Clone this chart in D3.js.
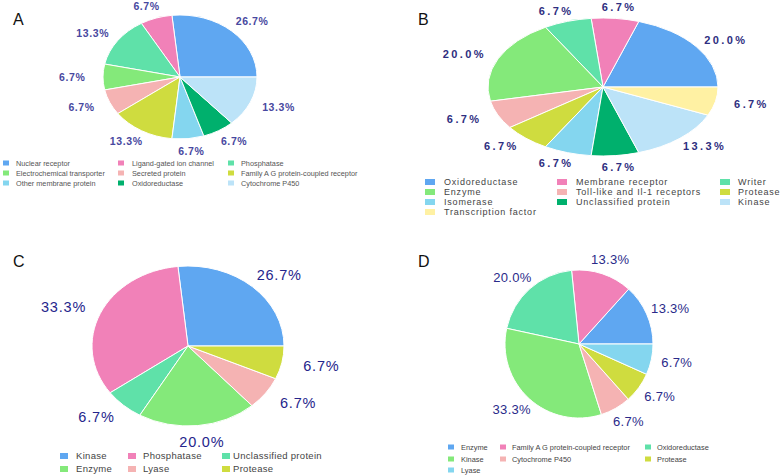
<!DOCTYPE html>
<html>
<head>
<meta charset="utf-8">
<script src="https://cdn.jsdelivr.net/npm/d3@7"></script>
<style>
  body { margin: 0; background: #fff; }
  svg { display: block; font-family: "Liberation Sans", Arial, sans-serif; }
</style>
</head>
<body>
<div id="chart"></div>
<script>
// shared slice palette, used in order by every panel
const palette = ['#5fa7f1', '#f181b8', '#5fe1a9', '#84e97a', '#f5b3b3',
                 '#cfdc3f', '#84d6ef', '#00b06d', '#bce3f8', '#fff1a3'];

// Panel A
const catsA = ['Nuclear receptor', 'Ligand-gated ion channel', 'Phosphatase',
               'Electrochemical transporter', 'Secreted protein', 'Family A G protein-coupled receptor',
               'Other membrane protein', 'Oxidoreductase', 'Cytochrome P450'];
const valsA = [26.7, 6.7, 13.3, 6.7, 6.7, 13.3, 6.7, 6.7, 13.3];

// Panel B
const catsB = ['Oxidoreductase', 'Membrane receptor', 'Writer',
               'Enzyme', 'Toll-like and Il-1 receptors', 'Protease',
               'Isomerase', 'Unclassified protein', 'Kinase',
               'Transcription factor'];
const valsB = [20.0, 6.7, 6.7, 20.0, 6.7, 6.7, 6.7, 6.7, 13.3, 6.7];

// Panel C
const catsC = ['Kinase', 'Phosphatase', 'Unclassified protein', 'Enzyme', 'Lyase', 'Protease'];
const valsC = [26.7, 33.3, 6.7, 20.0, 6.7, 6.7];

// Panel D
const catsD = ['Enzyme', 'Family A G protein-coupled receptor', 'Oxidoreductase',
               'Kinase', 'Cytochrome P450', 'Protease', 'Lyase'];
const valsD = [13.3, 13.3, 20.0, 33.3, 6.7, 6.7, 6.7];

const svg = d3.select('#chart').append('svg')
    .attr('width', 783)
    .attr('height', 475);

const panels = [
    { letter: 'A', lx: 13, ly: 25, cats: catsA, vals: valsA,
      cx: 180, cy: 77, rx: 77, ry: 62, kx: 1.4, ky: 1.2,
      label: { size: 10.5, weight: 'bold', spacing: 0.6, color: '#4848a0' },
      legend: { sx: [3, 118, 228], tx: [16, 132, 241], rows: [163, 173, 183],
                sw: 6, sh: 5, size: 7.3, spacing: 0, color: '#555' } },
    { letter: 'B', lx: 418, ly: 25, cats: catsB, vals: valsB,
      cx: 603, cy: 87, rx: 115, ry: 69, kx: 1.32, ky: 1.16,
      label: { size: 11, weight: 'bold', spacing: 2.4, color: '#2e2e80' },
      legend: { sx: [425, 557, 720], tx: [444, 576, 738], rows: [182, 192, 202, 212],
                sw: 10, sh: 6, size: 9, spacing: 0.8, color: '#444' } },
    { letter: 'C', lx: 13, ly: 267, cats: catsC, vals: valsC,
      cx: 188, cy: 346, rx: 96, ry: 80, kx: 1.42, ky: 1.2,
      label: { size: 14.5, weight: 'normal', spacing: 0.8, color: '#25258c' },
      legend: { sx: [60, 128, 222], tx: [76, 143, 233], rows: [456, 469],
                sw: 8, sh: 6, size: 9.5, spacing: 0.3, color: '#444' } },
    { letter: 'D', lx: 418, ly: 267, cats: catsD, vals: valsD,
      cx: 579, cy: 344, rx: 74, ry: 74, kx: 1.35, ky: 1.2,
      label: { size: 13, weight: 'normal', spacing: 0.3, color: '#2a2a8a' },
      legend: { sx: [448, 500, 645], tx: [461, 512, 657], rows: [447, 459, 470],
                sw: 6, sh: 5, size: 7.4, spacing: 0, color: '#444' } }
];

// slices run counter-clockwise from 3 o'clock
const pie = d3.pie()
    .sort(null)
    .startAngle(Math.PI / 2)
    .endAngle(Math.PI / 2 - 2 * Math.PI);

panels.forEach(p => {
    const color = d3.scaleOrdinal().domain(p.cats).range(palette);
    const data = p.cats.map((c, i) => ({ cat: c, value: p.vals[i] }));
    const arcs = pie.value(d => d.value)(data);
    const arc = d3.arc().innerRadius(0).outerRadius(p.rx);

    svg.append('text')
        .attr('x', p.lx)
        .attr('y', p.ly)
        .attr('font-size', 16)
        .attr('fill', '#111')
        .text(p.letter);

    // pie, squashed into an ellipse
    svg.append('g')
        .attr('transform', `translate(${p.cx},${p.cy}) scale(1,${p.ry / p.rx})`)
        .selectAll('path')
        .data(arcs)
        .enter().append('path')
        .attr('d', arc)
        .attr('fill', d => color(d.data.cat))
        .attr('stroke', '#fff')
        .attr('stroke-width', 1)
        .attr('vector-effect', 'non-scaling-stroke');

    // percentage labels
    svg.append('g')
        .selectAll('text')
        .data(arcs)
        .enter().append('text')
        .attr('x', d => {
            const a = (d.startAngle + d.endAngle) / 2;
            return p.cx + Math.sin(a) * p.rx * p.kx;
        })
        .attr('y', d => {
            const a = (d.startAngle + d.endAngle) / 2;
            return p.cy - Math.cos(a) * p.ry * p.ky;
        })
        .attr('dy', '0.36em')
        .attr('text-anchor', 'middle')
        .attr('font-size', p.label.size)
        .attr('font-weight', p.label.weight)
        .attr('letter-spacing', p.label.spacing)
        .attr('fill', p.label.color)
        .text(d => d.data.value.toFixed(1) + '%');

    // legend, filled row by row in three columns
    const lg = p.legend;
    const items = svg.append('g')
        .selectAll('g')
        .data(p.cats)
        .enter().append('g');

    items.append('rect')
        .attr('x', (d, i) => lg.sx[i % 3])
        .attr('y', (d, i) => lg.rows[Math.floor(i / 3)] - lg.sh / 2)
        .attr('width', lg.sw)
        .attr('height', lg.sh)
        .attr('fill', d => color(d));

    items.append('text')
        .attr('x', (d, i) => lg.tx[i % 3])
        .attr('y', (d, i) => lg.rows[Math.floor(i / 3)])
        .attr('dy', '0.35em')
        .attr('font-size', lg.size)
        .attr('letter-spacing', lg.spacing)
        .attr('fill', lg.color)
        .text(d => d);
});
</script>
</body>
</html>
